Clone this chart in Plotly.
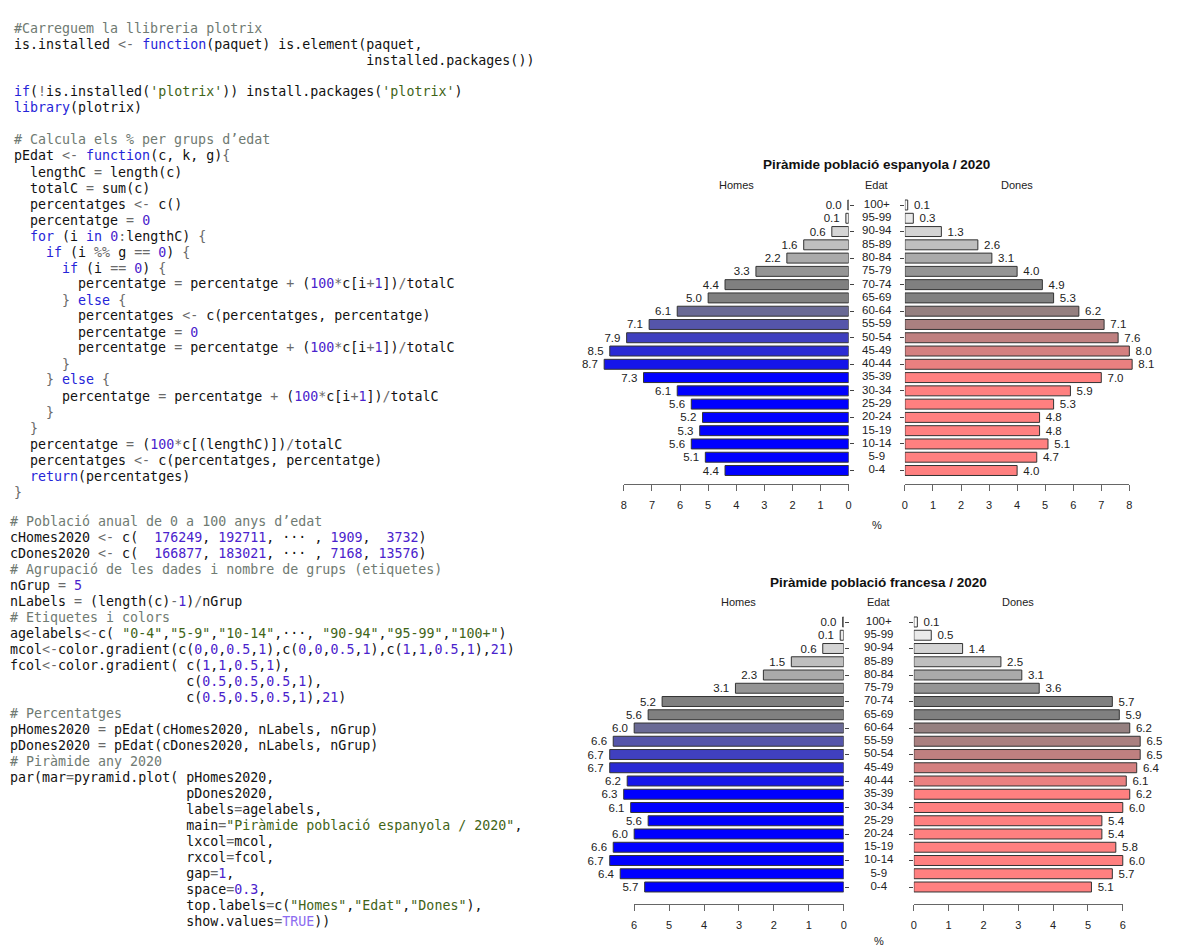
import plotly.graph_objects as go
import re

W, H = 1181, 951

# ---------------- data ----------------
age_labels = ["0-4", "5-9", "10-14", "15-19", "20-24", "25-29", "30-34", "35-39",
              "40-44", "45-49", "50-54", "55-59", "60-64", "65-69", "70-74",
              "75-79", "80-84", "85-89", "90-94", "95-99", "100+"]

es_homes = [4.4, 5.1, 5.6, 5.3, 5.2, 5.6, 6.1, 7.3, 8.7, 8.5, 7.9, 7.1, 6.1, 5.0,
            4.4, 3.3, 2.2, 1.6, 0.6, 0.1, 0.03]
es_dones = [4.0, 4.7, 5.1, 4.8, 4.8, 5.3, 5.9, 7.0, 8.1, 8.0, 7.6, 7.1, 6.2, 5.3,
            4.9, 4.0, 3.1, 2.6, 1.3, 0.3, 0.1]
fr_homes = [5.7, 6.4, 6.7, 6.6, 6.0, 5.6, 6.1, 6.3, 6.2, 6.7, 6.7, 6.6, 6.0, 5.6,
            5.2, 3.1, 2.3, 1.5, 0.6, 0.1, 0.03]
fr_dones = [5.1, 5.7, 6.0, 5.8, 5.4, 5.4, 6.0, 6.2, 6.1, 6.4, 6.5, 6.5, 6.2, 5.9,
            5.7, 3.6, 3.1, 2.5, 1.4, 0.5, 0.1]

title_es = "Piràmide població espanyola / 2020"
title_fr = "Piràmide població francesa / 2020"
top_labels = ["Homes", "Edat", "Dones"]
axis_title = "%"
ticks_es = [0, 1, 2, 3, 4, 5, 6, 7, 8]
ticks_fr = [0, 1, 2, 3, 4, 5, 6]

code_block_1 = [
    "#Carreguem la llibreria plotrix",
    "is.installed <- function(paquet) is.element(paquet,",
    "                                            installed.packages())",
    "",
    "if(!is.installed('plotrix')) install.packages('plotrix')",
    "library(plotrix)",
    "",
    "# Calcula els % per grups d’edat",
    "pEdat <- function(c, k, g){",
    "  lengthC = length(c)",
    "  totalC = sum(c)",
    "  percentatges <- c()",
    "  percentatge = 0",
    "  for (i in 0:lengthC) {",
    "    if (i %% g == 0) {",
    "      if (i == 0) {",
    "        percentatge = percentatge + (100*c[i+1])/totalC",
    "      } else {",
    "        percentatges <- c(percentatges, percentatge)",
    "        percentatge = 0",
    "        percentatge = percentatge + (100*c[i+1])/totalC",
    "      }",
    "    } else {",
    "      percentatge = percentatge + (100*c[i+1])/totalC",
    "    }",
    "  }",
    "  percentatge = (100*c[(lengthC)])/totalC",
    "  percentatges <- c(percentatges, percentatge)",
    "  return(percentatges)",
    "}",
]
code_block_2 = [
    "# Població anual de 0 a 100 anys d’edat",
    "cHomes2020 <- c(  176249, 192711, ··· , 1909,  3732)",
    "cDones2020 <- c(  166877, 183021, ··· , 7168, 13576)",
    "# Agrupació de les dades i nombre de grups (etiquetes)",
    "nGrup = 5",
    "nLabels = (length(c)-1)/nGrup",
    "# Etiquetes i colors",
    "agelabels<-c( \"0-4\",\"5-9\",\"10-14\",···, \"90-94\",\"95-99\",\"100+\")",
    "mcol<-color.gradient(c(0,0,0.5,1),c(0,0,0.5,1),c(1,1,0.5,1),21)",
    "fcol<-color.gradient( c(1,1,0.5,1),",
    "                      c(0.5,0.5,0.5,1),",
    "                      c(0.5,0.5,0.5,1),21)",
    "# Percentatges",
    "pHomes2020 = pEdat(cHomes2020, nLabels, nGrup)",
    "pDones2020 = pEdat(cDones2020, nLabels, nGrup)",
    "# Piràmide any 2020",
    "par(mar=pyramid.plot( pHomes2020,",
    "                      pDones2020,",
    "                      labels=agelabels,",
    "                      main=\"Piràmide població espanyola / 2020\",",
    "                      lxcol=mcol,",
    "                      rxcol=fcol,",
    "                      gap=1,",
    "                      space=0.3,",
    "                      top.labels=c(\"Homes\",\"Edat\",\"Dones\"),",
    "                      show.values=TRUE))",
]

# ---------------- helpers ----------------
def fx(p):
    return p / W

def fy(p):
    return 1 - p / H

def seg(x, n, stops):
    """plotrix color.gradient style piecewise interpolation"""
    nseg = len(stops) - 1
    per = n // nseg
    s = min(x // per, nseg - 1)
    i0 = s * per
    i1 = i0 + per - 1
    t = (x - i0) / (i1 - i0) if i1 > i0 else 0
    return stops[s] + (stops[s + 1] - stops[s]) * t

def gradient(r, g, b, n):
    out = []
    for i in range(n):
        rr, gg, bb = seg(i, n, r), seg(i, n, g), seg(i, n, b)
        out.append("rgb(%d,%d,%d)" % (round(rr * 255), round(gg * 255), round(bb * 255)))
    return out

mcol = gradient([0, 0, 0.5, 1], [0, 0, 0.5, 1], [1, 1, 0.5, 1], len(age_labels))
fcol = gradient([1, 1, 0.5, 1], [0.5, 0.5, 0.5, 1], [0.5, 0.5, 0.5, 1], len(age_labels))

TXT = "#222222"
FONT = "Liberation Sans, Arial, sans-serif"

fig = go.Figure()
layout = dict(
    width=W, height=H, margin=dict(l=0, r=0, t=0, b=0),
    paper_bgcolor="white", plot_bgcolor="rgba(0,0,0,0)",
    showlegend=False, bargap=0.25, annotations=[],
    font=dict(family=FONT, size=11, color=TXT),
)

def pyramid(k, homes, dones, ticks, title, G):
    xl, xr, xtl, xtr, xc = ["x%d" % (k * 5 + j) for j in range(1, 6)]
    yl, yr = "y%d" % (k * 2 + 1), "y%d" % (k * 2 + 2)
    def lname(a):
        return a[0] + "axis" + a[1:]
    n = len(age_labels)
    unit = (G["row_bottom"] - G["row_top"]) / (n - 1)
    ylo = -(G["axis_y"] - G["row_bottom"]) / unit
    yhi = (n - 1) + (G["row_top"] - G["top_y"]) / unit
    ydom = [fy(G["axis_y"]), fy(G["top_y"])]
    ycommon = dict(domain=ydom, range=[ylo, yhi], type="category",
                   categoryorder="array", categoryarray=age_labels,
                   showgrid=False, zeroline=False, showline=False,
                   showticklabels=False, ticks="outside", ticklen=4,
                   tickcolor="#444444", tickwidth=1, fixedrange=True)
    layout[lname(yl)] = dict(ycommon, anchor=xl, side="right")
    layout[lname(yr)] = dict(ycommon, anchor=xr, side="left")

    xmax_l = (G["left_zero"] - G["pl"]) / G["left_unit"]
    xmax_r = (G["pr"] - G["right_zero"]) / G["right_unit"]
    hidden = dict(visible=False, showgrid=False, zeroline=False, fixedrange=True)
    layout[lname(xl)] = dict(hidden, domain=[fx(G["pl"]), fx(G["left_zero"])],
                             range=[xmax_l, 0], anchor=yl)
    layout[lname(xr)] = dict(hidden, domain=[fx(G["right_zero"]), fx(G["pr"])],
                             range=[0, xmax_r], anchor=yr)
    layout[lname(xc)] = dict(hidden, domain=[fx(G["left_zero"]), fx(G["right_zero"])],
                             range=[0, 1], anchor=yl)
    tmax = ticks[-1]
    tick_common = dict(showgrid=False, zeroline=False, showline=True,
                       linecolor="#666666", linewidth=1, ticks="outside",
                       ticklen=6, tickcolor="#666666", tickwidth=1,
                       tickvals=ticks, ticktext=[str(t) for t in ticks],
                       tickfont=dict(size=11, color=TXT), ticklabelstandoff=5,
                       fixedrange=True)
    layout[lname(xtl)] = dict(tick_common,
                              domain=[fx(G["left_zero"] - tmax * G["left_unit"]), fx(G["left_zero"])],
                              range=[tmax, 0], anchor=yl)
    layout[lname(xtr)] = dict(tick_common,
                              domain=[fx(G["right_zero"]), fx(G["right_zero"] + tmax * G["right_unit"])],
                              range=[0, tmax], anchor=yr)

    bar_common = dict(orientation="h", textposition="outside", cliponaxis=False,
                      constraintext="none",
                      textfont=dict(size=11.5, color=TXT, family=FONT),
                      hoverinfo="skip")
    fig.add_trace(go.Bar(x=homes, y=age_labels, xaxis=xl, yaxis=yl,
                         texttemplate="%{x:.1f}\u00a0",
                         marker=dict(color=mcol, line=dict(color="#333333", width=1)),
                         **bar_common))
    fig.add_trace(go.Bar(x=dones, y=age_labels, xaxis=xr, yaxis=yr,
                         texttemplate="\u00a0%{x:.1f}",
                         marker=dict(color=fcol, line=dict(color="#333333", width=1)),
                         **bar_common))
    fig.add_trace(go.Scatter(x=[0.5] * n, y=age_labels, xaxis=xc, yaxis=yl,
                             mode="text", text=age_labels,
                             textfont=dict(size=11.5, color=TXT, family=FONT),
                             hoverinfo="skip"))
    fig.add_trace(go.Scatter(x=[], y=[], xaxis=xtl, yaxis=yl, hoverinfo="skip"))
    fig.add_trace(go.Scatter(x=[], y=[], xaxis=xtr, yaxis=yr, hoverinfo="skip"))

    ann = layout["annotations"]
    common = dict(xref="paper", yref="paper", showarrow=False,
                  xanchor="center", yanchor="middle")
    ann.append(dict(common, text="<b>%s</b>" % title, x=fx(G["title_x"]), y=fy(G["title_y"]),
                    font=dict(size=13.5, color="#111111", family=FONT)))
    for lab, px in zip(top_labels, [G["homes_x"], G["edat_x"], G["dones_x"]]):
        ann.append(dict(common, text=lab, x=fx(px), y=fy(G["top_lab_y"]),
                        font=dict(size=11, color=TXT, family=FONT)))
    ann.append(dict(common, text=axis_title, x=fx(G["edat_x"]), y=fy(G["pct_y"]),
                    font=dict(size=11, color=TXT, family=FONT)))

G_es = dict(left_zero=850, left_unit=28.25, right_zero=906.5, right_unit=28.2,
            row_top=205, row_bottom=470.5, axis_y=483.5, top_y=192, pl=585, pr=1172,
            title_x=878, title_y=164.5, top_lab_y=184.5, homes_x=737, edat_x=878,
            dones_x=1019, pct_y=524.5)
G_fr = dict(left_zero=845, left_unit=35.1, right_zero=915.5, right_unit=35.0,
            row_top=622, row_bottom=887, axis_y=903.5, top_y=610, pl=585, pr=1172,
            title_x=880, title_y=582, top_lab_y=602, homes_x=739, edat_x=880,
            dones_x=1020, pct_y=941)

pyramid(0, es_homes, es_dones, ticks_es, title_es, G_es)
pyramid(1, fr_homes, fr_dones, ticks_fr, title_fr, G_fr)

# ---------------- code text with R syntax colours ----------------
C_COMMENT = "#6f7a72"
C_KEYWORD = "#2525d8"
C_NUMBER = "#4a22cc"
C_STRING = "#3f6418"
C_CONST = "#8c6cf0"
C_OP = "#6a6a6a"
C_TEXT = "#111111"
KEYWORDS = {"function", "if", "else", "for", "in", "return", "library"}
TOKEN_RE = re.compile(r"(#.*)|(\"[^\"]*\"|'[^']*')|([A-Za-z_.][A-Za-z0-9_.]*)|(\d+\.?\d*)|(<-|==|%%|[=+*/:!\-{}<>])|(\s+)|(.)")

def esc(s):
    return (s.replace("&", "&amp;").replace("<", "&lt;").replace(">", "&gt;")
             .replace(" ", "\u00a0"))

def highlight(line):
    parts = []
    for m in TOKEN_RE.finditer(line):
        com, st, ident, num, op, ws, other = m.groups()
        tok = m.group(0)
        if com:
            col = C_COMMENT
        elif st:
            col = C_STRING
        elif ident:
            col = C_KEYWORD if ident in KEYWORDS else (C_CONST if ident == "TRUE" else C_TEXT)
        elif num:
            col = C_NUMBER
        elif op:
            col = C_OP
        else:
            col = C_TEXT
        parts.append('<span style="color:%s">%s</span>' % (col, esc(tok)))
    return "".join(parts)

def add_code(lines, x0, y0, dy):
    for i, line in enumerate(lines):
        if not line:
            continue
        layout["annotations"].append(dict(
            text=highlight(line), x=fx(x0), y=fy(y0 + i * dy), xref="paper", yref="paper",
            xanchor="left", yanchor="middle", align="left", showarrow=False,
            font=dict(family="DejaVu Sans Mono, monospace", size=13.3, color=C_TEXT)))

add_code(code_block_1, 9.5, 28, 16)
add_code(code_block_2, 5.5, 521, 16)

fig.update_layout(**layout)
fig.write_html("out.html", config={"displayModeBar": False},
               post_script="document.body.style.margin='0';")
